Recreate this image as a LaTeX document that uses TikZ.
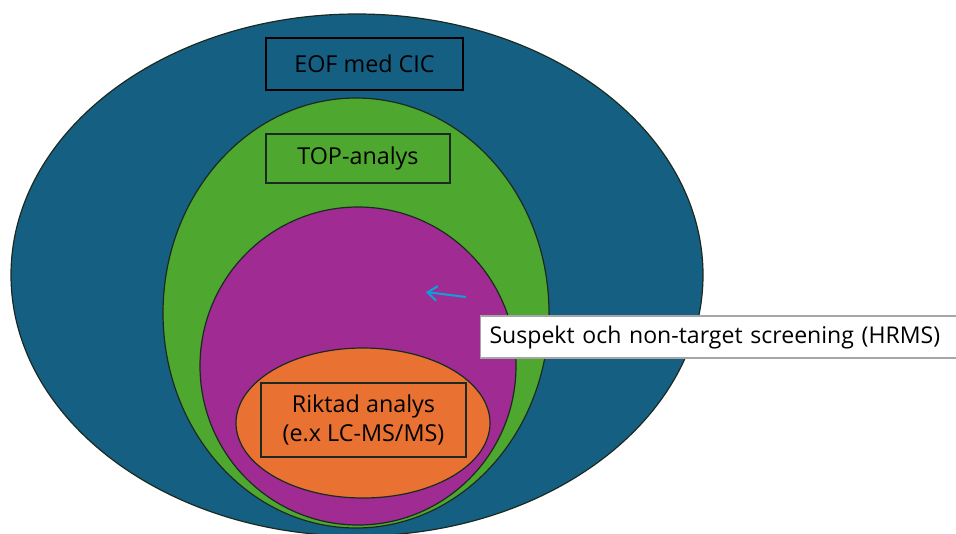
\documentclass[tikz,border=0pt]{standalone}
\usepackage{fontspec}
\setmainfont{Open Sans}
\usetikzlibrary{shapes.geometric,arrows.meta}
\definecolor{cblue}{HTML}{156082}
\definecolor{cgreen}{HTML}{4EA72E}
\definecolor{cpurple}{HTML}{A02B93}
\definecolor{corange}{HTML}{E97132}
\definecolor{carrow}{HTML}{0F9ED5}
\definecolor{cline}{HTML}{1A2A20}
\tikzset{
  blob/.style={ellipse, draw=cline, line width=0.9pt, inner sep=0pt},
  labelbox/.style={draw=cline, line width=0.8pt, inner sep=0pt, font=\fontsize{17.5}{22}\selectfont, align=center},
}
\begin{document}
\begin{tikzpicture}[x=0.75pt,y=-0.75pt]
\useasboundingbox (0,0) rectangle (956,533);
\clip (0,0) rectangle (956,533);
\fill[white] (0,0) rectangle (956,533);
\node[blob, fill=cblue, minimum width=692*0.75pt, minimum height=522*0.75pt] (outer) at (357,275) {};
\node[blob, fill=cgreen, minimum width=386*0.75pt, minimum height=430*0.75pt] (green) at (356,313) {};
\node[blob, fill=cpurple, minimum width=316*0.75pt, minimum height=318*0.75pt] (purple) at (358,366) {};
\node[blob, fill=corange, minimum width=254*0.75pt, minimum height=150*0.75pt] (orange) at (363,423) {};
\node[labelbox, line width=2pt, draw=black, minimum width=197*0.75pt, minimum height=52*0.75pt] (eof) at (364.5,64) {EOF med CIC};
\node[labelbox, minimum width=184*0.75pt, minimum height=49*0.75pt] (top) at (358,158.5) {TOP-analys};
\node[labelbox, minimum width=205*0.75pt, minimum height=74*0.75pt] (rikt) at (363.5,420) {Riktad analys\\(e.x LC-MS/MS)};
\node[draw=gray!70, line width=0.8pt, fill=white, minimum height=42*0.75pt, anchor=west, inner xsep=9*0.75pt, inner ysep=0pt, text width=475*0.75pt, align=left, font=\fontsize{17.3}{22}\selectfont] (hrms) at (480,337) {Suspekt och non-target screening (HRMS)};
\coordinate (atail) at (466,297);
\coordinate (ahead) at (426,292);
\draw[carrow, line width=1.6pt, -{Straight Barb[length=7pt,width=11pt]}] (atail) -- (ahead);
\end{tikzpicture}
\end{document}
